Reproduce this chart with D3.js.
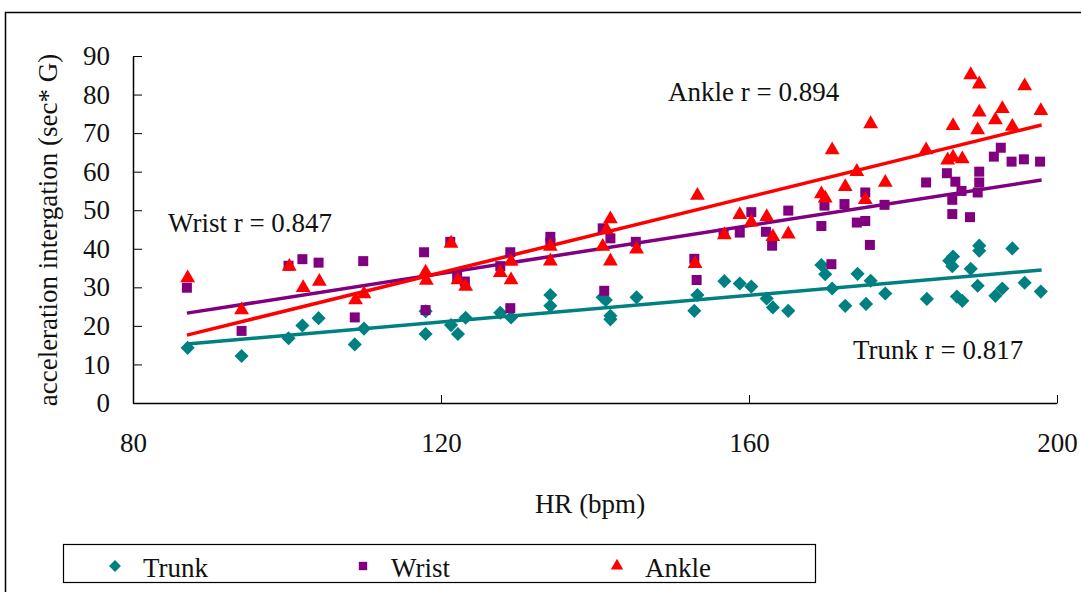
<!DOCTYPE html>
<html>
<head>
<meta charset="utf-8">
<script src="https://cdn.jsdelivr.net/npm/d3@7"></script>
<style>
  body { margin: 0; background: #fff; }
  text { font-family: "Liberation Serif", "Times New Roman", serif; fill: #111; }
</style>
</head>
<body>
<svg id="chart" width="1081" height="592"></svg>
<script>
// HR (bpm) and acceleration integration
const trunkHR = [87.1, 94.1, 100.2, 102, 104.1, 108.8, 110, 118, 118, 121.3, 122.2, 123.2, 127.7, 129.1, 134.2, 134.2,
  141, 141.4, 142, 142, 145.4, 153.3, 152.9, 156.8, 158.8, 160.3, 162.3, 163.1, 165.1, 169.4, 169.9, 170.8,
  172.5, 174.1, 175.2, 175.8, 177.7, 183.1, 186, 186.5, 186.4, 187, 187.7, 188.8, 189.9, 189.9, 189.7, 192,
  192.9, 194.2, 195.8, 197.9];
const trunkVal = [14.3, 12.2, 16.8, 20.1, 22.0, 15.2, 19.3, 23.8, 17.9, 20.2, 17.9, 22.1, 23.4, 22.2, 28.0, 25.2,
  27.4, 26.7, 22.6, 21.7, 27.4, 28.0, 23.9, 31.6, 31.0, 30.2, 27.1, 24.8, 23.9, 35.8, 33.4, 29.7,
  25.2, 33.5, 25.7, 31.7, 28.4, 27.0, 36.9, 38.0, 35.5, 27.6, 26.5, 34.8, 40.8, 39.5, 30.4, 27.8,
  29.7, 40.1, 31.2, 28.9];

const wristHR = [87, 94.1, 100.2, 102, 104.1, 108.8, 109.9, 117.8, 118, 121.2, 122.1, 123.1, 127.7, 129, 129, 134.2,
  134.2, 141, 141.2, 142, 145.3, 152.9, 153.2, 156.7, 158.8, 160.3, 162.2, 163, 165.1, 169.8, 169.4, 170.7,
  172.4, 174, 175.1, 175.1, 175.7, 177.6, 183, 185.7, 186.8, 187.6, 186.4, 186.4, 188.7, 189.9, 189.9, 189.7,
  191.8, 192.7, 194.1, 195.7, 197.8];
const wristVal = [29.9, 18.7, 35.6, 37.3, 36.4, 22.2, 36.8, 39.1, 24.1, 41.8, 32.9, 31.5, 35.5, 39.1, 24.6, 43.1,
  41.5, 45.3, 29.1, 42.7, 41.8, 37.4, 31.9, 44.0, 44.2, 49.5, 44.4, 40.8, 49.9, 51.2, 45.9, 36.0,
  51.6, 46.8, 47.2, 54.6, 41.0, 51.4, 57.2, 59.6, 57.4, 55.0, 52.7, 49.0, 48.2, 60.0, 57.2, 54.6,
  63.9, 66.2, 62.6, 63.2, 62.6];

const ankleHR = [87.1, 94.1, 100.3, 102.1, 104.2, 108.9, 110, 118, 118.1, 121.3, 122.2, 123.2, 127.7, 129.1, 129.1, 134.2,
  134.2, 141, 141.5, 142, 142, 145.4, 153.3, 153, 156.8, 158.8, 160.3, 162.3, 163.1, 165.1, 169.4, 169.9,
  170.8, 172.5, 174, 175.1, 175.8, 177.7, 183, 185.8, 186.5, 186.5, 187.7, 188.8, 189.9, 189.9, 189.7, 192,
  192.9, 194.2, 195.8, 197.9];
const ankleVal = [32.4, 24.1, 35.4, 29.9, 31.5, 26.7, 28.3, 33.9, 31.8, 41.4, 31.9, 30.2, 33.8, 36.7, 31.9, 40.6,
  36.8, 40.6, 44.9, 47.7, 36.8, 39.9, 53.8, 36.1, 43.6, 48.8, 46.9, 48.3, 43.1, 43.8, 54.2, 53.1,
  65.6, 56.1, 60.0, 52.7, 72.4, 57.2, 65.6, 63.0, 71.9, 63.7, 63.3, 85.1, 82.7, 75.4, 70.8, 73.4,
  76.3, 71.7, 82.2, 75.8];

// trend lines: [intercept, slope], drawn over [87, 198]
const seriesNames = ["Trunk", "Wrist", "Ankle"];
const fitCoef = [[0.25, 0.173], [-3.75, 0.311], [-25.1, 0.491]];
const fitRange = [87, 198];
const rLabels = ["Trunk r = 0.817", "Wrist r = 0.847", "Ankle r = 0.894"];

const xTicks = [80, 120, 160, 200];
const yTicks = [0, 10, 20, 30, 40, 50, 60, 70, 80, 90];

const colors = ["#008080", "#800080", "#ff0000"];
// diamond = square turned 45 degrees
const shapes = [d3.symbolSquare, d3.symbolSquare, d3.symbolTriangle];
const rotate = [45, 0, 0];
const shapeSize = [100, 100, 95];

const svg = d3.select("#chart");
const FONT = "Liberation Serif, Times New Roman, serif";

// outer frame (only top + left visible)
svg.append("rect")
  .attr("x", 5.5).attr("y", 12.5)
  .attr("width", 1100).attr("height", 620)
  .attr("fill", "none").attr("stroke", "#000").attr("stroke-width", 1.5);

const x = d3.scaleLinear().domain([80, 200]).range([133, 1057]);
const y = d3.scaleLinear().domain([0, 90]).range([403, 56]);

// x axis, ticks pointing up
const xAxis = svg.append("g")
  .attr("transform", `translate(0,${y(0)})`)
  .call(d3.axisBottom(x).tickValues(xTicks).tickSizeInner(-8).tickSizeOuter(0).tickPadding(30));
xAxis.select(".domain").attr("stroke", "#000").attr("stroke-width", 1.5);
xAxis.selectAll("line").attr("stroke", "#000");
xAxis.selectAll("text").attr("font-size", 27).attr("font-family", FONT).attr("fill", "#111");

// y axis, ticks pointing right
const yAxis = svg.append("g")
  .attr("transform", `translate(${x(80)},0)`)
  .call(d3.axisLeft(y).tickValues(yTicks).tickSizeInner(-9).tickSizeOuter(0).tickPadding(23));
yAxis.select(".domain").attr("stroke", "#000").attr("stroke-width", 1.5);
yAxis.selectAll("line").attr("stroke", "#000");
yAxis.selectAll("text").attr("font-size", 27).attr("font-family", FONT).attr("fill", "#111");

// axis titles
svg.append("text")
  .attr("x", x(140) - 5).attr("y", 513)
  .attr("text-anchor", "middle").attr("font-size", 27).attr("font-family", FONT)
  .text("HR (bpm)");

svg.append("text")
  .attr("transform", `translate(57,230) rotate(-90)`)
  .attr("text-anchor", "middle").attr("font-size", 27).attr("font-family", FONT)
  .text("acceleration intergation (sec* G)");

// trend lines
fitCoef.forEach((c, i) => {
  svg.append("line")
    .attr("x1", x(fitRange[0])).attr("y1", y(c[0] + c[1] * fitRange[0]))
    .attr("x2", x(fitRange[1])).attr("y2", y(c[0] + c[1] * fitRange[1]))
    .attr("stroke", colors[i]).attr("stroke-width", 3.5);
});

// points
const allSeries = [
  d3.zip(trunkHR, trunkVal),
  d3.zip(wristHR, wristVal),
  d3.zip(ankleHR, ankleVal)
];
allSeries.forEach((pts, i) => {
  svg.append("g").selectAll("path")
    .data(pts)
    .join("path")
    .attr("transform", d => `translate(${x(d[0])},${y(d[1])}) rotate(${rotate[i]})`)
    .attr("d", d3.symbol().type(shapes[i]).size(shapeSize[i]))
    .attr("fill", colors[i]);
});

// r annotations
const rPos = [[853, 359], [168, 232], [668, 101]];
rLabels.forEach((t, i) => {
  svg.append("text")
    .attr("x", rPos[i][0]).attr("y", rPos[i][1])
    .attr("font-size", 27).attr("font-family", FONT)
    .text(t);
});

// legend
const leg = svg.append("g");
leg.append("rect")
  .attr("x", 63.5).attr("y", 544.5).attr("width", 752).attr("height", 38)
  .attr("fill", "#fff").attr("stroke", "#000").attr("stroke-width", 1.2);
const legX = [115, 363, 617];
seriesNames.forEach((n, i) => {
  leg.append("path")
    .attr("transform", `translate(${legX[i]},566) rotate(${rotate[i]})`)
    .attr("d", d3.symbol().type(shapes[i]).size(shapeSize[i] * 0.7))
    .attr("fill", colors[i]);
  leg.append("text")
    .attr("x", legX[i] + 28).attr("y", 577)
    .attr("font-size", 27).attr("font-family", FONT)
    .text(n);
});
</script>
</body>
</html>
